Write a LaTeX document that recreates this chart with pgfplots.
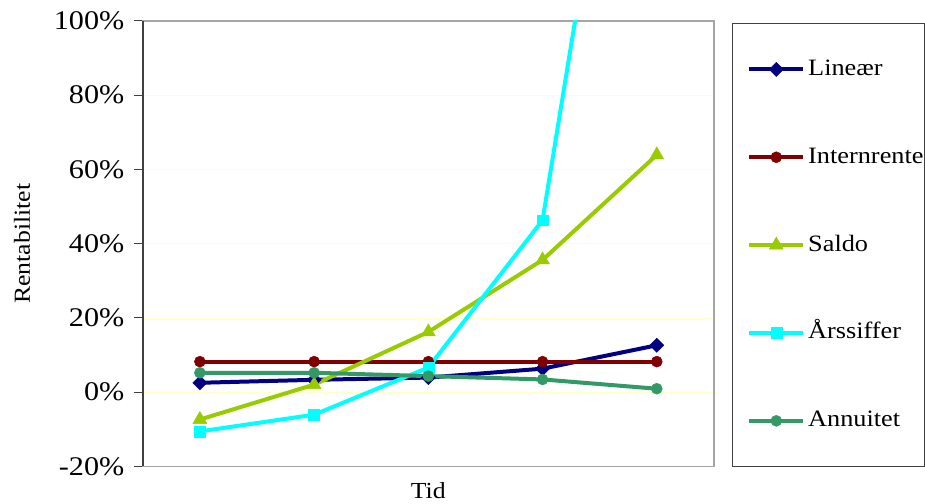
\documentclass[border=0pt]{standalone}
\usepackage{pgfplots}
\pgfplotsset{compat=1.18}
\usepackage{fontspec}
\setmainfont{Liberation Serif}[FakeStretch=1.12]

\definecolor{cLin}{RGB}{0,0,128}
\definecolor{cInt}{RGB}{128,0,0}
\definecolor{cSal}{RGB}{153,204,0}
\definecolor{cArs}{RGB}{0,255,255}
\definecolor{cAnn}{RGB}{51,153,102}
\definecolor{gridc}{RGB}{255,255,200}
\definecolor{framec}{RGB}{165,165,165}
\definecolor{axisc}{RGB}{64,64,64}

\begin{document}
\begin{tikzpicture}
\begin{axis}[
  scale only axis, width=572pt, height=446pt,
  xmin=-0.5, xmax=4.5, ymin=-20, ymax=100,
  xtick=\empty, ytick={-20,0,...,100}, ytick pos=left,
  yticklabel={\pgfmathprintnumber{\tick}\%},
  /pgf/number format/assume math mode=true,
  tick align=outside, major tick length=9pt,
  ytick style={axisc, line width=1pt},
  yticklabel style={font=\fontsize{27}{32}\selectfont, xshift=-6pt},
  ymajorgrids, grid style={gridc, line width=0.6pt},
  axis line style={framec, line width=1.5pt},
  xlabel={Tid}, ylabel={Rentabilitet},
  label style={font=\fontsize{23}{28}\selectfont},
  xlabel style={at={(axis description cs:0.5,-0.0717)}, anchor=base},
  ylabel style={at={(axis description cs:-0.2115,0.5)}, anchor=center},
  legend cell align=left,
  legend image code/.code={
    \path (0pt,0pt);
    \draw[mark repeat=2, mark phase=2, #1] plot coordinates {(14pt,0pt) (41pt,0pt) (68pt,0pt)};
  },
  legend style={
    at={(axis description cs:1,1)}, anchor=north west,
    xshift=18pt, yshift=-2pt,
    draw=axisc, line width=1pt,
    inner xsep=1pt, inner ysep=35pt,
    row sep=66pt, column sep=3pt,
    nodes={inner sep=0pt, text height=17pt, text depth=5pt,
           font=\fontsize{23.5}{28}\selectfont},
  },
  every axis plot/.append style={line width=4pt},
]
\addplot[cLin, mark=square*, mark size=5pt,
  mark options={rotate=45, solid, line width=0.5pt}]
  coordinates {(0,2.5) (1,3.3) (2,3.9) (3,6.3) (4,12.6)};
\addlegendentry{Lineær}

\addplot[cInt, mark=*, mark size=5.5pt,
  mark options={solid, line width=0.5pt}]
  coordinates {(0,8.2) (1,8.2) (2,8.2) (3,8.2) (4,8.2)};
\addlegendentry{Internrente}

\addplot[cSal, mark=triangle*, mark size=8pt,
  mark options={solid, line width=0.5pt}]
  coordinates {(0,-7.4) (1,2.0) (2,16.2) (3,35.6) (4,63.9)};
\addlegendentry{Saldo}

\addplot[cArs, mark=square*, mark size=5.5pt,
  mark options={solid, line width=0.5pt}]
  coordinates {(0,-10.6) (1,-6.1) (2,6.6) (3,46.3) (4,235)};
\addlegendentry{Årssiffer}

\addplot[cAnn, mark=*, mark size=5.5pt,
  mark options={solid, line width=0.5pt}]
  coordinates {(0,5.2) (1,5.2) (2,4.3) (3,3.4) (4,0.9)};
\addlegendentry{Annuitet}
\end{axis}
\draw[axisc, line width=1.5pt] (current axis.south west) -- (current axis.north west);
\path (current axis.south west) ++(-143pt,-37pt) rectangle ++(925pt,504pt);
\end{tikzpicture}
\end{document}
